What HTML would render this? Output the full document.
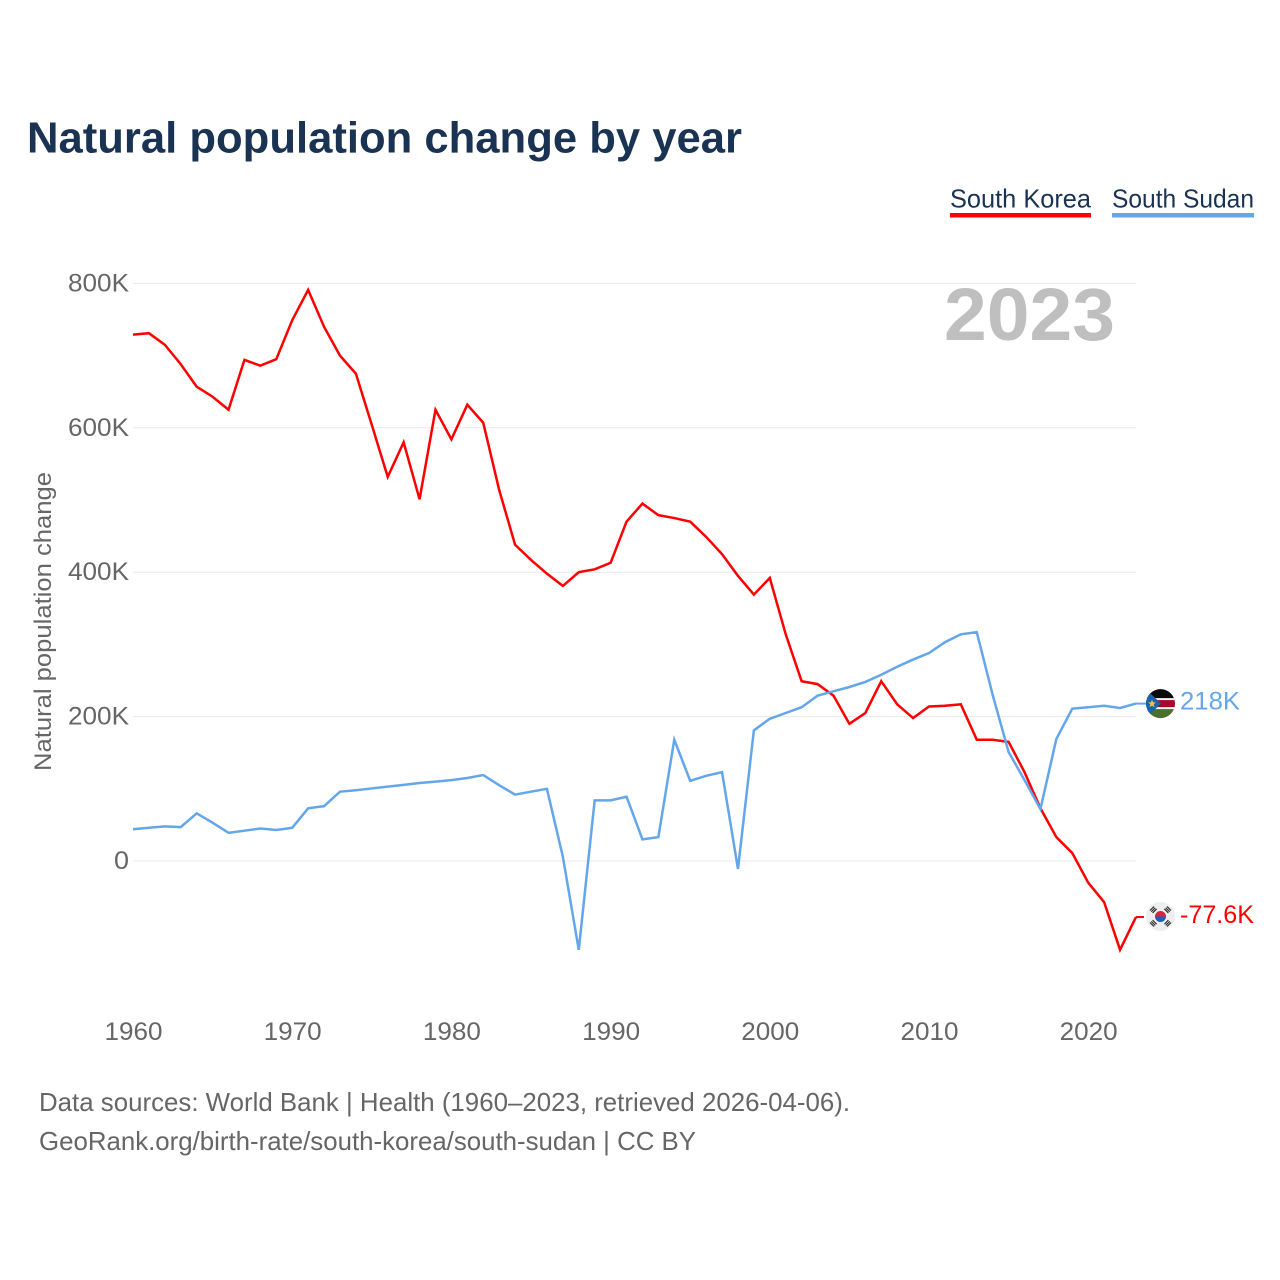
<!DOCTYPE html>
<html lang="en">
<head>
<meta charset="utf-8">
<title>Natural population change by year</title>
<style>
html,body{margin:0;padding:0;background:#fff;}
svg{display:block;font-family:"Liberation Sans",sans-serif;}
</style>
</head>
<body>
<svg id="chart" xmlns="http://www.w3.org/2000/svg" width="1280" height="1280" viewBox="0 0 1280 1280">
<defs>
<clipPath id="flag-clip-ss"><circle cx="0" cy="0" r="14.5"/></clipPath>
</defs>
<rect x="0" y="0" width="1280" height="1280" fill="#fff"/>
<text x="27" y="152.5" font-size="44" font-weight="700" fill="#1a3353" textLength="715" lengthAdjust="spacingAndGlyphs">Natural population change by year</text>
<g>
<g>
<text x="950" y="207.5" font-size="26" fill="#1a3353" textLength="141" lengthAdjust="spacingAndGlyphs">South Korea</text>
<rect x="950" y="213" width="141" height="4.5" fill="#ff0000"/>
</g>
<g>
<text x="1112" y="207.5" font-size="26" fill="#1a3353" textLength="142" lengthAdjust="spacingAndGlyphs">South Sudan</text>
<rect x="1112" y="213" width="142" height="4.5" fill="#63a6ea"/>
</g>
</g>
<g id="grid"></g>
<g id="y-labels"></g>
<g id="x-labels"></g>
<text x="944" y="340" font-size="74" font-weight="700" fill="#bfbfbf" textLength="171" lengthAdjust="spacingAndGlyphs">2023</text>
<text transform="translate(51,771) rotate(-90)" x="0" y="0" font-size="24" fill="#666" textLength="299" lengthAdjust="spacingAndGlyphs">Natural population change</text>
<g id="series"></g>
<g id="flag-ss">
<g clip-path="url(#flag-clip-ss)">
<rect x="-15" y="-15" width="30" height="10.5" fill="#0a0a0a"/>
<rect x="-15" y="-4.5" width="30" height="9" fill="#a8072c"/>
<rect x="-15" y="4.5" width="30" height="10.5" fill="#4b6f2e"/>
<rect x="-15" y="-5.5" width="30" height="2" fill="#f4f4f4"/>
<rect x="-15" y="3.5" width="30" height="2" fill="#f4f4f4"/>
<polygon points="-15,-15 0.5,0 -15,15" fill="#1764ae"/>
<polygon points="-8.5,-4 -7.4,-1.2 -4.6,-1.2 -6.8,0.7 -6,3.6 -8.5,2 -11,3.6 -10.2,0.7 -12.4,-1.2 -9.6,-1.2" fill="#f3c62e"/>
</g>
</g>
<g id="flag-kr">
<circle cx="0" cy="0" r="14.5" fill="#eeeeee"/>
<path d="M-5.5,0 A5.5,5.5 0 0 1 5.5,0 Z" fill="#d8243f"/>
<path d="M-5.5,0 A5.5,5.5 0 0 0 5.5,0 Z" fill="#1f5fb4"/>
<g stroke="#222" stroke-width="1.1" fill="none">
<path d="M-10.5,-5 L-6.5,-9 M-9.2,-3.8 L-5.2,-7.8 M-7.9,-2.6 L-3.9,-6.6" transform="translate(0,-1)"/>
<path d="M10.5,-5 L6.5,-9 M9.2,-3.8 L5.2,-7.8 M7.9,-2.6 L3.9,-6.6" transform="translate(0,-1)"/>
<path d="M-10.5,5 L-6.5,9 M-9.2,3.8 L-5.2,7.8 M-7.9,2.6 L-3.9,6.6" transform="translate(0,1)"/>
<path d="M10.5,5 L6.5,9 M9.2,3.8 L5.2,7.8 M7.9,2.6 L3.9,6.6" transform="translate(0,1)"/>
</g>
</g>
<text id="label-ss" x="1180" font-size="25" fill="#63a6ea" textLength="60" lengthAdjust="spacingAndGlyphs">218K</text>
<text id="label-kr" x="1180" font-size="25" fill="#ff0000" textLength="74" lengthAdjust="spacingAndGlyphs">-77.6K</text>
<text x="39" y="1111" font-size="26" fill="#666" textLength="811" lengthAdjust="spacingAndGlyphs">Data sources: World Bank | Health (1960–2023, retrieved 2026-04-06).</text>
<text x="39" y="1150" font-size="26" fill="#666" textLength="657" lengthAdjust="spacingAndGlyphs">GeoRank.org/birth-rate/south-korea/south-sudan | CC BY</text>
</svg>
<script>
const firstYear = 1960;
const southKorea = [729,731,715,688,657,643,625,694,686,695,749,791,740,700,675,604,532,580,501,625,584,632,607,514,438,417,398,381,400,404,413,470,495,479,475,470,449,425,395,369,392,314,249,245,229,190,205,249,217,198,214,215,217,168,168,165,123,73,33,11,-30,-57,-123,-77.6];
const southSudan = [44,46,48,47,66,53,39,42,45,43,46,73,76,96,98,100.5,103,105.5,108,110,112,115,119,105,92,96,100,6,-123,84,84,89,30,33,168,111,118,123,-11,181,197,205,213,229,235,241,248,258,269,279,288,303,314,317,230,151,112,72,169,211,213,215,212,218];
const yTicks = [0,200,400,600,800];
const xTicks = [1960,1970,1980,1990,2000,2010,2020];

const NS = 'http://www.w3.org/2000/svg';
function xScale(year){ return 133 + (year - 1960) * 15.92; }
function yScale(k){ return 861 - k * 0.722; }
function make(tag, parent){
  const el = document.createElementNS(NS, tag);
  parent.appendChild(el);
  return el;
}
const grid = document.getElementById('grid');
const yLabels = document.getElementById('y-labels');
const xLabels = document.getElementById('x-labels');
const series = document.getElementById('series');

yTicks.forEach(function(t){
  const line = make('line', grid);
  
  
  line.setAttribute('x1', 133);
  line.setAttribute('x2', 1136);
  line.setAttribute('y1', yScale(t));
  line.setAttribute('y2', yScale(t));
  line.setAttribute('stroke', '#e8e8e8');
  line.setAttribute('stroke-width', 1);
  const label = make('text', yLabels);
  
  
  const s = t === 0 ? '0' : t + 'K';
  label.textContent = s;
  label.setAttribute('x', 129);
  label.setAttribute('y', yScale(t) + 8);
  label.setAttribute('text-anchor', 'end');
  label.setAttribute('font-size', 25);
  label.setAttribute('fill', '#666');
  label.setAttribute('textLength', t === 0 ? 15 : 61);
  label.setAttribute('lengthAdjust', 'spacingAndGlyphs');
});

xTicks.forEach(function(t){
  const label = make('text', xLabels);
  
  
  label.textContent = t;
  label.setAttribute('x', xScale(t) + 0.5);
  label.setAttribute('y', 1040);
  label.setAttribute('text-anchor', 'middle');
  label.setAttribute('font-size', 25);
  label.setAttribute('fill', '#666');
  label.setAttribute('textLength', 58);
  label.setAttribute('lengthAdjust', 'spacingAndGlyphs');
});

function pathFor(values){
  return values.map(function(v, i){
    return (i ? 'L' : 'M') + xScale(firstYear + i).toFixed(2) + ',' + yScale(v).toFixed(2);
  }).join(' ');
}

const koreaLine = make('path', series);


koreaLine.setAttribute('d', pathFor(southKorea));
koreaLine.setAttribute('fill', 'none');
koreaLine.setAttribute('stroke', '#ff0000');
koreaLine.setAttribute('stroke-width', 2.5);
koreaLine.setAttribute('stroke-linejoin', 'miter');

const sudanLine = make('path', series);


sudanLine.setAttribute('d', pathFor(southSudan));
sudanLine.setAttribute('fill', 'none');
sudanLine.setAttribute('stroke', '#63a6ea');
sudanLine.setAttribute('stroke-width', 2.5);
sudanLine.setAttribute('stroke-linejoin', 'miter');

const lastKr = southKorea[southKorea.length - 1];
const lastSs = southSudan[southSudan.length - 1];
const endX = xScale(firstYear + southKorea.length - 1);

const koreaLead = make('line', series);


koreaLead.setAttribute('x1', endX);
koreaLead.setAttribute('x2', endX + 8);
koreaLead.setAttribute('y1', yScale(lastKr));
koreaLead.setAttribute('y2', yScale(lastKr));
koreaLead.setAttribute('stroke', '#ff0000');
koreaLead.setAttribute('stroke-width', 2);

const sudanLead = make('line', series);


sudanLead.setAttribute('x1', endX);
sudanLead.setAttribute('x2', endX + 10);
sudanLead.setAttribute('y1', yScale(lastSs));
sudanLead.setAttribute('y2', yScale(lastSs));
sudanLead.setAttribute('stroke', '#63a6ea');
sudanLead.setAttribute('stroke-width', 2);

document.getElementById('flag-ss').setAttribute('transform', 'translate(1160.5,' + yScale(lastSs) + ')');
document.getElementById('flag-kr').setAttribute('transform', 'translate(1160.5,' + (yScale(lastKr) - 0.5) + ')');
document.getElementById('label-ss').setAttribute('y', yScale(lastSs) + 6);
document.getElementById('label-kr').setAttribute('y', yScale(lastKr) + 6);
</script>
</body>
</html>
